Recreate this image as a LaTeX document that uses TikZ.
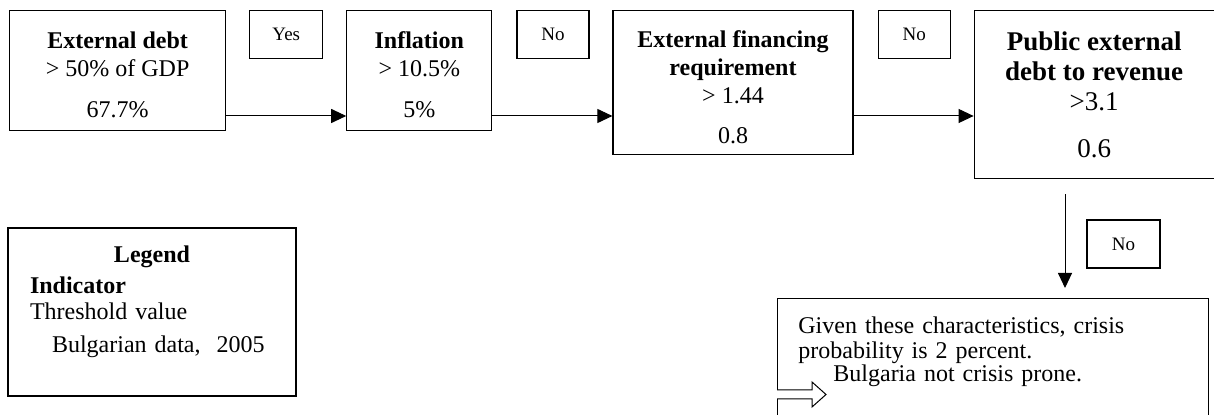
\documentclass[tikz,border=0pt]{standalone}
\usepackage{fontspec}
\setmainfont{Liberation Serif}
\usetikzlibrary{positioning, arrows.meta}

\begin{document}
\begin{tikzpicture}[
    x=0.5pt, y=-0.5pt,
    node distance=60pt,
    block/.style={rectangle, draw, line width=0.6pt, align=center, font=\fontsize{12}{14}\selectfont, minimum height=60pt},
    tag/.style={rectangle, draw, line width=0.6pt, font=\fontsize{9.5}{10}\selectfont, minimum width=36pt, minimum height=24pt},
    line/.style={draw, line width=0.5pt, -{Triangle[length=7.5pt, width=7pt]}}
]
    \useasboundingbox (0,0) rectangle (1214,415);

    \node [block, minimum width=108pt, anchor=north west] (debt) at (9,10) {\rule{0pt}{12.5pt}\textbf{External debt}\\ > 50\% of GDP\\[6.5pt] 67.7\%};
    \node [block, minimum width=72.5pt, right=60pt of debt.north east, anchor=north west] (infl) {\rule{0pt}{12.5pt}\textbf{Inflation}\\ > 10.5\%\\[6.5pt] 5\%};
    \node [block, minimum width=120pt, minimum height=72pt, right=60pt of infl.north east, anchor=north west] (efr) {\rule{0pt}{13pt}\textbf{External financing}\\ \textbf{requirement}\\ > 1.44\\[6pt] 0.8};
    \node [block, minimum width=120pt, minimum height=84pt, font=\fontsize{13.5}{15}\selectfont, right=60pt of efr.north east, anchor=north west] (pedr) {\textbf{Public external}\\ \textbf{debt to revenue}\\ >3.1\\[8.5pt] 0.6};

    \node [tag, minimum width=36.5pt, right=11.5pt of debt.north east, anchor=north west] (yes) {Yes};
    \node [tag, right=12pt of infl.north east, anchor=north west] (no1) {No};
    \node [tag, right=12pt of efr.north east, anchor=north west] (no2) {No};
    \node [tag, minimum width=36.5pt] (no3) at (1123.5,244) {No};

    % legend
    \node [draw, line width=0.6pt, minimum width=144pt, minimum height=84pt] (legend) at (152,312) {};
    \node [anchor=north, inner sep=0pt, text width=122pt, align=left, font=\fontsize{12}{13.5}\selectfont] (legendtext) at (152,245.8) {\hspace*{\fill}\textbf{Legend}\hspace*{\fill}\null\\[2pt] \textbf{Indicator}\\[-0.5pt] Threshold value\\[3pt] \hspace*{11pt}Bulgarian data,~ 2005};

    % conclusion
    \node [draw, line width=0.6pt, minimum width=215.5pt, minimum height=70pt, anchor=north west] (concl) at (777,298) {};
    \node [anchor=north west, inner sep=0pt, text width=200pt, align=left, font=\fontsize{12}{12.5}\selectfont] (concltext) at (798,316) {Given these characteristics, crisis\\ probability is 2 percent.\\[-1pt] \hspace*{17.5pt}Bulgaria not crisis prone.};
    \draw [line width=0.5pt, fill=white] (777,390) -- (812,390) -- (812,382) -- (826,394.5) -- (812,407) -- (812,399) -- (777,399);

    \coordinate (ay) at (0,116);
    \coordinate (ax) at (1065,0);
    \path [line] (debt.east |- ay) -- (infl.west |- ay);
    \path [line] (infl.east |- ay) -- (efr.west |- ay);
    \path [line] (efr.east |- ay) -- (pedr.west |- ay);
    \path [line, shorten <=7.5pt, shorten >=5pt] (pedr.south -| ax) -- (concl.north -| ax);
\end{tikzpicture}
\end{document}
